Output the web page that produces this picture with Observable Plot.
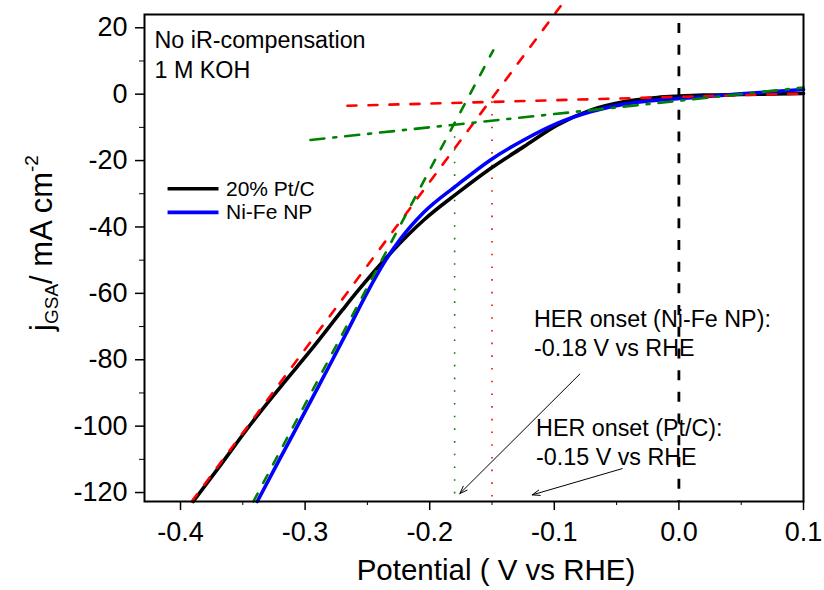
<!DOCTYPE html>
<html><head><meta charset="utf-8">
<script src="https://cdn.jsdelivr.net/npm/d3@7"></script>
<script src="https://cdn.jsdelivr.net/npm/@observablehq/plot@0.6"></script>
<style>body{margin:0;background:#fff}</style>
</head><body><div id="chart"></div>
<script>
// ---- tick values ----
const xTicks = [-0.4, -0.3, -0.2, -0.1, 0.0, 0.1];
const xMinor = [-0.35, -0.25, -0.15, -0.05, 0.05];
const yTicks = [20, 0, -20, -40, -60, -80, -100, -120];
const yMinor = [10, -10, -30, -50, -70, -90, -110];

// ---- series names ----
const seriesNames = ["20% Pt/C", "Ni-Fe NP"];

// ---- 20% Pt/C polarisation curve ----
const ptcV = [-0.3898, -0.37, -0.3438, -0.32, -0.293, -0.27, -0.2569, -0.2315, -0.2047, -0.178, -0.1512, -0.1245, -0.0977, -0.0709, -0.0442, -0.0174, 0.0007, 0.02, 0.05, 0.1];
const ptcJ = [-122.7, -112.8, -99.5, -88.3, -76, -65.0, -58.9, -47.9, -37.9, -29.9, -22.4, -15.8, -9.3, -4.8, -2.3, -1.0, -0.6, -0.3, -0.1, 0.2];

// ---- Ni-Fe NP polarisation curve ----
const nifeV = [-0.3384, -0.3205, -0.3062, -0.2920, -0.2780, -0.2642, -0.2505, -0.2368, -0.2234, -0.2047, -0.178, -0.1512, -0.1245, -0.0977, -0.0709, -0.0442, -0.0174, 0.0007, 0.02, 0.05, 0.1];
const nifeJ = [-122.7, -110, -100, -90, -80, -70, -60, -50.9, -43.6, -35.6, -27.4, -19.8, -13.8, -8.8, -5.3, -3.0, -1.8, -1.3, -0.8, 0.1, 1.4];

// ---- linear fits used for onset determination ----
const ptcSteepV = [-0.391, -0.095];  const ptcSteepJ = [-122.7, 26.5];
const ptcFlatV  = [-0.266, 0.1];     const ptcFlatJ  = [-3.5, 0.2];
const nifeSteepV = [-0.3415, -0.149]; const nifeSteepJ = [-122.7, 13.2];
const nifeFlatV  = [-0.2957, 0.1];    const nifeFlatJ  = [-13.8, 2.0];

// ---- onset potentials (V) and the current where fits cross ----
const onsetV = [-0.18, -0.15];
const onsetJ = [-9.0, -2.3];
const onsetColors = ["#008000", "#ff0000"];

// ---- reference potential line ----
const zeroV = [0.0];
const zeroTopJ = [21.3];

// ---- annotation texts ----
const noteText = ["No iR-compensation\n1 M KOH"];
const herTexts = ["HER onset (Ni-Fe NP):\n-0.18 V vs RHE", "HER onset (Pt/C):\n-0.15 V vs RHE"];
const herTextV = [-0.1163, -0.1146];
const herTextJ = [-63.8, -96.7];
const arrowFromV = [-0.0795, -0.0455];
const arrowFromJ = [-84.3, -112.8];
const arrowToV = [-0.1758, -0.1177];
const arrowToJ = [-120.3, -120.7];

// ---- build tables ----
const zip = (xs, ys) => xs.map((x, i) => ({x, y: ys[i]}));
const ptc = zip(ptcV, ptcJ), nife = zip(nifeV, nifeJ);
const bottomJ = -122.7;
const yDomain = [-122.7, 24];
const xDomain = [-0.4289, 0.1];
const onsets = onsetV.map((v, i) => ({x: v, y1: onsetJ[i], y2: bottomJ, c: onsetColors[i]}));
const her = herTexts.map((t, i) => ({t, x: herTextV[i], y: herTextJ[i]}));
const arrows = arrowFromV.map((v, i) => ({x1: v, y1: arrowFromJ[i], x2: arrowToV[i], y2: arrowToJ[i]}));
const legend = seriesNames.map((n, i) => ({n, c: i === 0 ? "#000000" : "#0000ff", y: i === 0 ? -28.5 : -35.6}));

const font = "'Liberation Sans', Arial, Helvetica, sans-serif";

const chart = Plot.plot({
  width: 824, height: 590,
  marginLeft: 144, marginRight: 21, marginTop: 14, marginBottom: 89,
  style: {fontFamily: font, background: "white", color: "black"},
  x: {domain: xDomain},
  y: {domain: yDomain},
  marks: [
    // minor ticks
    Plot.axisX({ticks: xMinor, tickSize: 4, tickFormat: () => "", label: null}),
    Plot.axisY({ticks: yMinor, tickSize: 5, tickFormat: () => "", label: null}),
    // major ticks
    Plot.axisX({ticks: xTicks, tickSize: 9, tickPadding: 11, fontSize: 27, tickFormat: d => d.toFixed(1), label: null, strokeWidth: 1.5}),
    Plot.axisY({ticks: yTicks, tickSize: 9, tickPadding: 8, fontSize: 27, tickFormat: d => String(d), label: null, strokeWidth: 1.5}),
    // zero potential line
    Plot.ruleX(zeroV, {x: d => d, y1: zeroTopJ[0], y2: bottomJ, stroke: "black", strokeWidth: 2.8, strokeDasharray: "10,11.7"}),
    // onset dotted lines
    Plot.ruleX(onsets, {x: "x", y1: "y1", y2: "y2", stroke: "c", strokeWidth: 1.6, strokeDasharray: "1.6,11.1"}),
    // data curves
    Plot.line(ptc, {x: "x", y: "y", stroke: "black", strokeWidth: 3.6, curve: "monotone-x"}),
    Plot.line(nife, {x: "x", y: "y", stroke: "#0000ff", strokeWidth: 3.6, curve: "monotone-x"}),
    // fit lines
    Plot.line(zip(ptcSteepV, ptcSteepJ), {x: "x", y: "y", stroke: "#ff0000", strokeWidth: 2.6, strokeDasharray: "9,12"}),
    Plot.line(zip(ptcFlatV, ptcFlatJ), {x: "x", y: "y", stroke: "#ff0000", strokeWidth: 2.6, strokeDasharray: "9,12"}),
    Plot.line(zip(nifeSteepV, nifeSteepJ), {x: "x", y: "y", stroke: "#008000", strokeWidth: 2.6, strokeDasharray: "9,12"}),
    Plot.line(zip(nifeFlatV, nifeFlatJ), {x: "x", y: "y", stroke: "#008000", strokeWidth: 2.6, strokeDasharray: "14,9,3,9"}),
    // frame
    Plot.frame({stroke: "black", strokeWidth: 2}),
    // arrows
    Plot.arrow(arrows, {x1: "x1", y1: "y1", x2: "x2", y2: "y2", stroke: "black", strokeWidth: 1, headLength: 12, headAngle: 40}),
    // annotations
    Plot.text(noteText, {text: d => d, frameAnchor: "top-left", dx: 10, dy: 12.7, lineAnchor: "top", textAnchor: "start", fontSize: 23.3, lineHeight: 1.27, fill: "black"}),
    Plot.text(her, {text: "t", x: "x", y: "y", lineAnchor: "top", textAnchor: "start", fontSize: 23.3, lineHeight: 1.25, fill: "black"}),
    // legend
    Plot.link(legend, {x1: -0.4104, x2: -0.3695, y1: "y", y2: "y", stroke: "c", strokeWidth: 3.6}),
    Plot.text(legend, {text: "n", x: -0.3635, y: "y", textAnchor: "start", fontSize: 21, fill: "black"}),
    // x-axis label
    Plot.text(["Potential ( V vs RHE)"], {text: d => d, frameAnchor: "bottom", dx: 22, dy: 58, lineAnchor: "top", fontSize: 29.5, fill: "black"})
  ]
});

document.getElementById("chart").appendChild(chart);

// y-axis label with subscript and superscript
const svg = d3.select(chart);
const yl = svg.append("text")
  .attr("transform", "translate(52,243) rotate(-90)")
  .attr("text-anchor", "middle")
  .attr("font-family", font)
  .attr("font-size", 31)
  .attr("fill", "black");
yl.append("tspan").text("j");
yl.append("tspan").attr("font-size", 19).attr("dy", 6).text("GSA");
yl.append("tspan").attr("dy", -6).text("/ mA cm");
yl.append("tspan").attr("font-size", 19).attr("dy", -14).text("-2");
</script>
</body></html>
